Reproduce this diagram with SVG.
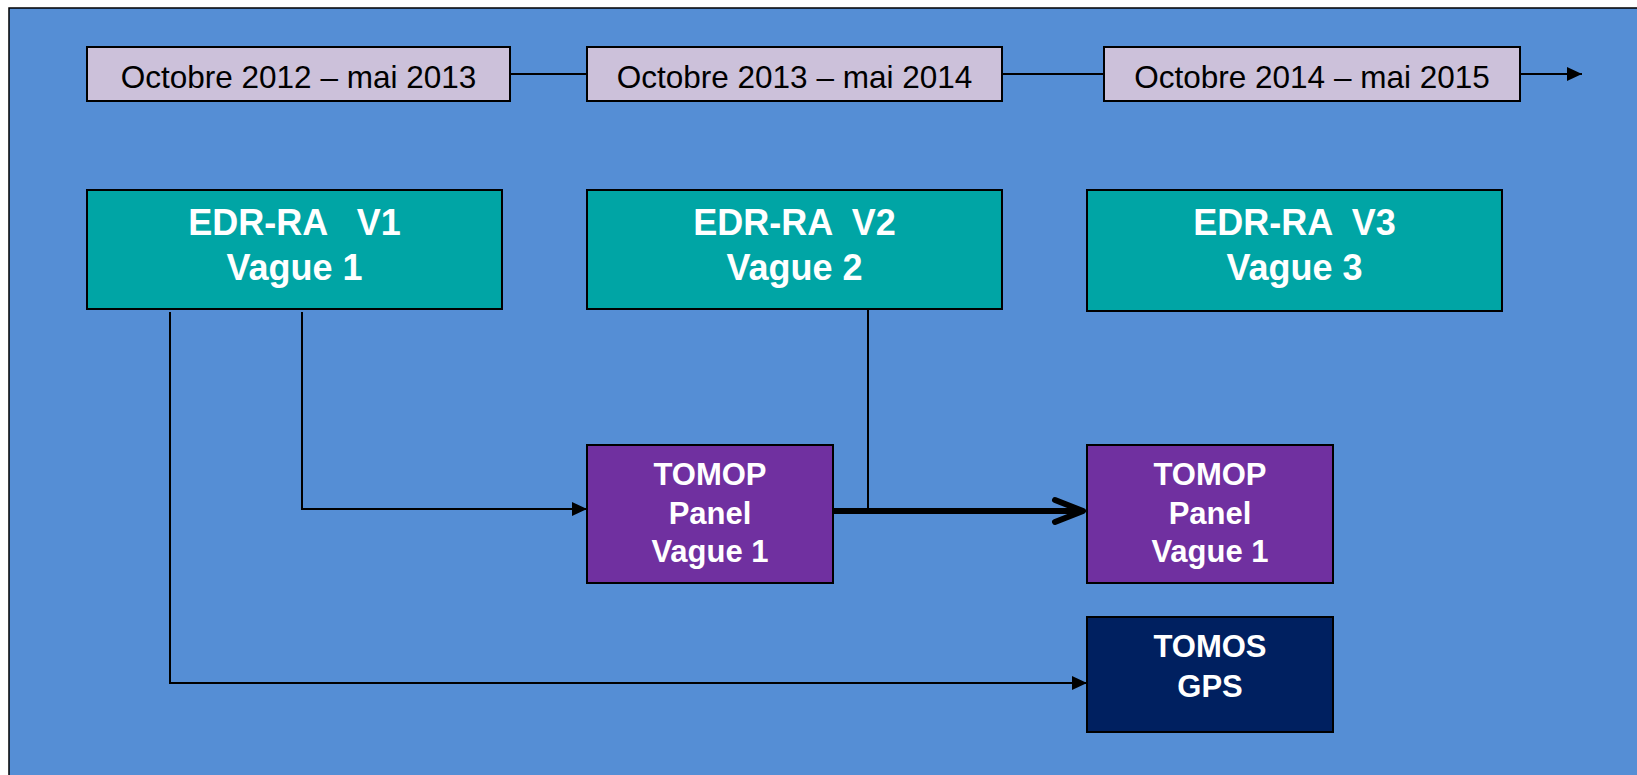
<svg xmlns="http://www.w3.org/2000/svg" width="1637" height="775" viewBox="0 0 1637 775">
<defs>
<style>
.date{fill:#CCC1DA;stroke:#000;stroke-width:2}
.dt{font-family:"Liberation Sans",Arial,sans-serif;font-size:31.5px;fill:#000;text-anchor:middle}
.edr{fill:#00A5A5;stroke:#000;stroke-width:2}
.tomop{fill:#7030A0;stroke:#000;stroke-width:2}
.tomos{fill:#002060;stroke:#000;stroke-width:2}
.bt{font-family:"Liberation Sans",Arial,sans-serif;font-weight:bold;fill:#fff;text-anchor:middle;white-space:pre}
.big{font-size:36px}
.mid{font-size:31px}
.ln{fill:none;stroke:#000;stroke-width:2}
.thick{fill:none;stroke:#000;stroke-width:6}
</style>
<marker id="arr" markerUnits="userSpaceOnUse" viewBox="0 0 15 14" refX="15" refY="7" markerWidth="15" markerHeight="14" orient="auto">
<path d="M0 0 L15 7 L0 14 z" fill="#000"/>
</marker>
<marker id="open" markerUnits="userSpaceOnUse" viewBox="-34 -16 38 32" refX="0" refY="0" markerWidth="38" markerHeight="32" orient="auto">
<path d="M-28 -11 L0 0 L-28 11" fill="none" stroke="#000" stroke-width="6" stroke-linecap="round" stroke-linejoin="round"/>
</marker>
</defs>
<rect x="0" y="0" width="1637" height="775" fill="#fff"/>
<rect x="9" y="8" width="1640" height="780" fill="#558ED5" stroke="#000" stroke-width="1.5"/>

<g id="connectors">
<path class="ln" d="M510 74 H587"/>
<path class="ln" d="M1002 74 H1104"/>
<path class="ln" d="M1520 74 H1582" marker-end="url(#arr)"/>
<path class="ln" d="M302 312 V509 H587" marker-end="url(#arr)"/>
<path class="ln" d="M170 312 V683 H1087" marker-end="url(#arr)"/>
<path class="ln" d="M799 309 H868 V510"/>
<path class="thick" d="M827 511 H1083" marker-end="url(#open)"/>
</g>

<g id="date1"><rect class="date" x="87" y="47" width="423" height="54"/><text class="dt" x="298.5" y="88">Octobre 2012 – mai 2013</text></g>
<g id="date2"><rect class="date" x="587" y="47" width="415" height="54"/><text class="dt" x="794.5" y="88">Octobre 2013 – mai 2014</text></g>
<g id="date3"><rect class="date" x="1104" y="47" width="416" height="54"/><text class="dt" x="1312" y="88">Octobre 2014 – mai 2015</text></g>

<g id="edr1"><rect class="edr" x="87" y="190" width="415" height="119"/><text class="bt big" x="294.5" y="235">EDR-RA   V1</text><text class="bt big" x="294.5" y="280">Vague 1</text></g>
<g id="edr2"><rect class="edr" x="587" y="190" width="415" height="119"/><text class="bt big" x="794.5" y="235">EDR-RA  V2</text><text class="bt big" x="794.5" y="280">Vague 2</text></g>
<g id="edr3"><rect class="edr" x="1087" y="190" width="415" height="121"/><text class="bt big" x="1294.5" y="235">EDR-RA  V3</text><text class="bt big" x="1294.5" y="280">Vague 3</text></g>

<g id="tomop1"><rect class="tomop" x="587" y="445" width="246" height="138"/><text class="bt mid" x="710" y="485">TOMOP</text><text class="bt mid" x="710" y="524">Panel</text><text class="bt mid" x="710" y="562">Vague 1</text></g>
<g id="tomop2"><rect class="tomop" x="1087" y="445" width="246" height="138"/><text class="bt mid" x="1210" y="485">TOMOP</text><text class="bt mid" x="1210" y="524">Panel</text><text class="bt mid" x="1210" y="562">Vague 1</text></g>
<g id="tomos"><rect class="tomos" x="1087" y="617" width="246" height="115"/><text class="bt mid" x="1210" y="657">TOMOS</text><text class="bt mid" x="1210" y="697">GPS</text></g>
</svg>
